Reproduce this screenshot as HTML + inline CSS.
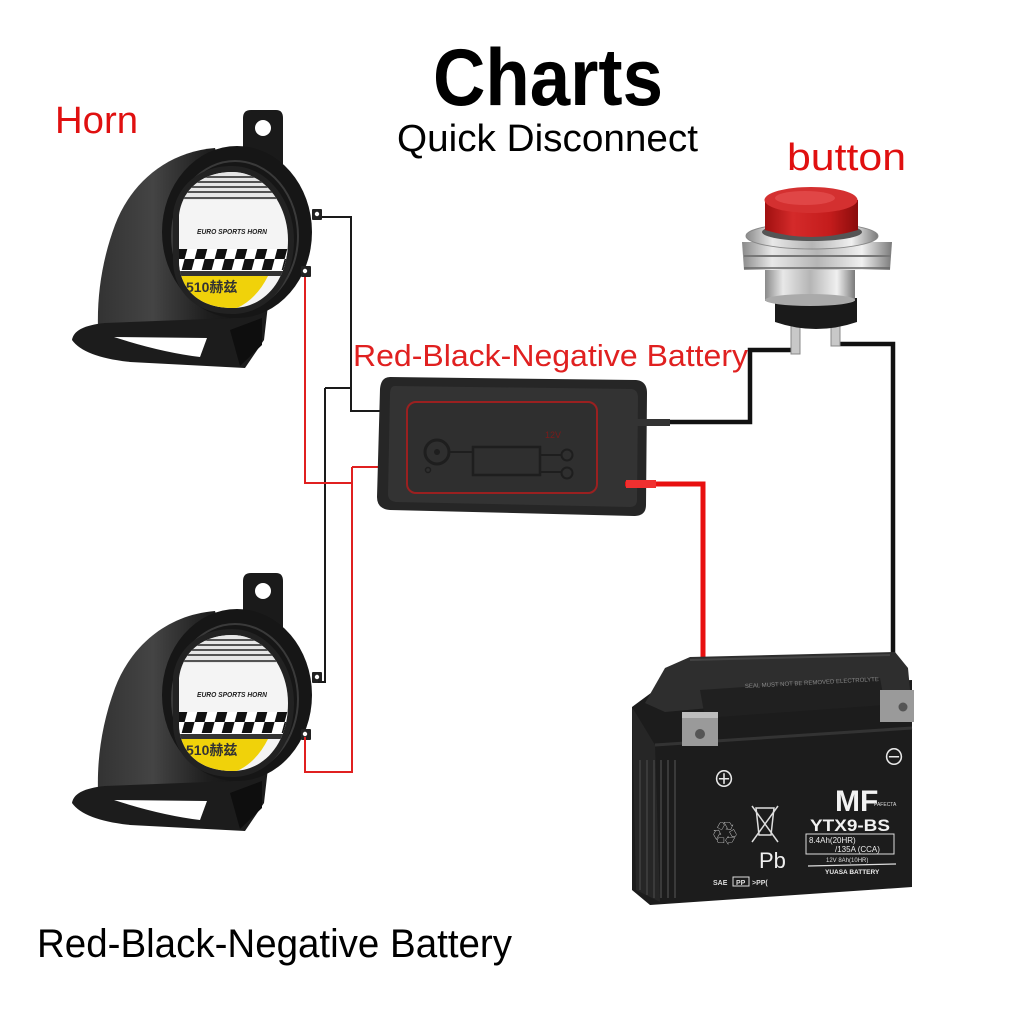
<!DOCTYPE html>
<html><head><meta charset="utf-8"><style>
html,body{margin:0;padding:0;background:#fff;width:1024px;height:1024px;overflow:hidden}
svg{display:block}
text{font-family:"Liberation Sans","Noto Sans CJK SC",sans-serif}
</style></head><body>
<svg width="1024" height="1024" viewBox="0 0 1024 1024" xmlns="http://www.w3.org/2000/svg">
<defs>
<linearGradient id="hg" x1="0" y1="0" x2="1" y2="0">
<stop offset="0" stop-color="#333"/><stop offset="0.35" stop-color="#444"/><stop offset="0.7" stop-color="#1e1e1e"/><stop offset="1" stop-color="#111"/>
</linearGradient>
<linearGradient id="silver" x1="0" y1="0" x2="1" y2="0">
<stop offset="0" stop-color="#8a8a8a"/><stop offset="0.2" stop-color="#e8e8e8"/><stop offset="0.5" stop-color="#b5b5b5"/><stop offset="0.8" stop-color="#f0f0f0"/><stop offset="1" stop-color="#7a7a7a"/>
</linearGradient>
<linearGradient id="redcap" x1="0" y1="0" x2="1" y2="0">
<stop offset="0" stop-color="#a01010"/><stop offset="0.3" stop-color="#d42a2a"/><stop offset="0.7" stop-color="#c41c1c"/><stop offset="1" stop-color="#8a0c0c"/>
</linearGradient>
<clipPath id="lab"><path d="M232,172 C265,172 288,205 288,240 C288,280 265,308 232,308 C200,308 180,290 179,262 L179,215 C182,190 202,172 232,172 Z"/></clipPath>
<g id="horn">
 <path d="M243,168 L243,118 Q243,110 251,110 L276,110 Q283,110 283,118 L283,175 Z" fill="#1a1a1a"/>
 <circle cx="263" cy="128" r="8" fill="#fff"/>
 <path d="M215,148 C165,152 130,185 115,225 C102,260 97,295 98,328 L240,332 L255,290 Z" fill="url(#hg)"/>
 <path d="M72,340 Q74,326 105,323 L235,318 L268,305 L264,340 L245,368 L130,362 Q84,357 72,340 Z" fill="#1c1c1c"/>
 <path d="M114,337 L207,338 L200,357 Q160,352 114,337 Z" fill="#fff"/>
 <path d="M230,330 L262,318 L262,345 L240,366 Z" fill="#0e0e0e"/>
 <ellipse cx="237" cy="232" rx="75" ry="86" fill="#161616"/>
 <ellipse cx="235" cy="236" rx="63" ry="75" fill="none" stroke="#3a3a3a" stroke-width="2"/>
 <path d="M232,166 C268,166 294,202 294,240 C294,283 268,314 232,314 C196,314 174,292 173,262 L173,213 C177,186 199,166 232,166 Z" fill="#222"/>
 <g clip-path="url(#lab)">
  <rect x="170" y="170" width="125" height="140" fill="#f4f4f4"/>
  <rect x="170" y="170" width="125" height="30" fill="#e6e6e6"/>
  <g stroke="#222" stroke-width="1.6">
   <line x1="185" y1="177" x2="280" y2="177"/><line x1="182" y1="182" x2="280" y2="182"/>
   <line x1="180" y1="187" x2="282" y2="187"/><line x1="180" y1="192" x2="282" y2="192"/>
   <line x1="180" y1="198" x2="285" y2="198"/>
  </g>
  <text x="197" y="234" font-size="7.5" font-weight="bold" font-style="italic" fill="#222" textLength="70" lengthAdjust="spacingAndGlyphs">EURO SPORTS HORN</text>
  <rect x="170" y="249" width="125" height="22" fill="#fff"/>
  <g fill="#111" transform="skewX(-15) translate(66,0)">
   <rect x="178" y="249" width="10" height="10"/><rect x="198" y="249" width="10" height="10"/><rect x="218" y="249" width="10" height="10"/><rect x="238" y="249" width="10" height="10"/><rect x="258" y="249" width="10" height="10"/><rect x="278" y="249" width="10" height="10"/>
   <rect x="188" y="259" width="10" height="11"/><rect x="208" y="259" width="10" height="11"/><rect x="228" y="259" width="10" height="11"/><rect x="248" y="259" width="10" height="11"/><rect x="268" y="259" width="10" height="11"/><rect x="288" y="259" width="10" height="11"/>
  </g>
  <rect x="170" y="271" width="125" height="5" fill="#333"/>
  <path d="M170,276 L268,276 Q255,302 232,310 L170,310 Z" fill="#f0d20a"/>
  <text x="186" y="292" font-size="14" font-weight="bold" fill="#333">510赫兹</text>
 </g>
 <rect x="312" y="209" width="10" height="11" rx="1" fill="#222"/>
 <circle cx="317" cy="214" r="2.2" fill="#fff"/>
 <rect x="301" y="266" width="10" height="11" rx="1" fill="#222"/>
 <circle cx="305" cy="271" r="2.2" fill="#fff"/>
</g>
</defs>

<!-- Titles -->
<text x="433" y="105" font-size="81" font-weight="bold" fill="#000" textLength="230" lengthAdjust="spacingAndGlyphs">Charts</text>
<text x="397" y="151" font-size="38" fill="#000" textLength="301" lengthAdjust="spacingAndGlyphs">Quick Disconnect</text>
<text x="55" y="133" font-size="38" fill="#e01010" textLength="83" lengthAdjust="spacingAndGlyphs">Horn</text>
<text x="787" y="170" font-size="38" fill="#e01010" textLength="119" lengthAdjust="spacingAndGlyphs">button</text>
<text x="353" y="366" font-size="31" fill="#e02020" textLength="395" lengthAdjust="spacingAndGlyphs">Red-Black-Negative Battery</text>
<text x="37" y="957" font-size="40" fill="#000" textLength="475" lengthAdjust="spacingAndGlyphs">Red-Black-Negative Battery</text>

<!-- Horns -->
<use href="#horn"/>
<use href="#horn" transform="translate(0,463)"/>

<!-- thin wires -->
<g fill="none" stroke-width="2">
 <polyline points="322,217 351,217 351,411 384,411" stroke="#1a1a1a"/>
 <polyline points="325,388 351,388" stroke="#1a1a1a"/>
 <polyline points="325,388 325,682 318,682" stroke="#1a1a1a"/>
 <polyline points="305,277 305,483 352,483" stroke="#e02020"/>
 <polyline points="352,467 382,467" stroke="#e02020"/>
 <polyline points="352,467 352,772 305,772 305,737" stroke="#e02020"/>
</g>

<!-- relay box -->
<path d="M390,377 L636,380 Q647,381 647,393 L646,505 Q646,516 634,516 L390,510 Q377,509 377,497 L380,389 Q381,377 390,377 Z" fill="#262626"/>
<path d="M395,386 L632,389 Q638,390 638,398 L637,500 Q637,507 630,507 L396,502 Q388,501 388,494 L390,394 Q390,386 395,386 Z" fill="#333"/>
<rect x="407" y="402" width="190" height="91" rx="9" fill="#2f2f2f" stroke="#9a2020" stroke-width="2"/>
<circle cx="437" cy="452" r="12" fill="none" stroke="#1e1e1e" stroke-width="3"/>
<circle cx="437" cy="452" r="3" fill="#1e1e1e"/>
<circle cx="428" cy="470" r="2.5" fill="none" stroke="#1e1e1e" stroke-width="1.5"/>
<rect x="473" y="447" width="67" height="28" fill="none" stroke="#1e1e1e" stroke-width="2.5"/>
<line x1="449" y1="452" x2="473" y2="452" stroke="#1e1e1e" stroke-width="2"/>
<line x1="540" y1="455" x2="562" y2="455" stroke="#1e1e1e" stroke-width="2"/>
<line x1="540" y1="472" x2="562" y2="472" stroke="#1e1e1e" stroke-width="2"/>
<circle cx="567" cy="455" r="5.5" fill="none" stroke="#1e1e1e" stroke-width="2"/>
<circle cx="567" cy="473" r="5.5" fill="none" stroke="#1e1e1e" stroke-width="2"/>
<text x="545" y="438" font-size="9" fill="#7a1a1a">12V</text>

<!-- thick wires -->
<polyline points="628,422 750,422 750,350 797,350" fill="none" stroke="#111" stroke-width="4.5"/>
<rect x="628" y="419" width="42" height="7" fill="#333"/>
<polyline points="837,344 893,344 893,705" fill="none" stroke="#111" stroke-width="4.5"/>
<polyline points="625,484 703,484 703,732" fill="none" stroke="#e81010" stroke-width="5"/>
<rect x="626" y="480" width="30" height="8" fill="#f03030"/>

<!-- button -->
<rect x="791" y="322" width="9" height="32" fill="#c8c8c8" stroke="#888" stroke-width="1"/>
<rect x="831" y="320" width="9" height="26" fill="#c8c8c8" stroke="#888" stroke-width="1"/>
<path d="M775,298 L857,298 L857,322 Q816,336 775,322 Z" fill="#1a1a1a"/>
<rect x="765" y="265" width="90" height="36" fill="url(#silver)"/>
<ellipse cx="810" cy="300" rx="45" ry="6" fill="#aaa"/>
<path d="M742,242 L892,242 L890,270 L744,270 Z" fill="url(#silver)"/>
<line x1="744" y1="256" x2="890" y2="256" stroke="#777" stroke-width="2"/>
<line x1="744" y1="268" x2="890" y2="268" stroke="#666" stroke-width="1.5"/>
<ellipse cx="812" cy="236" rx="66" ry="13" fill="url(#silver)" stroke="#888" stroke-width="1"/>
<ellipse cx="812" cy="232" rx="50" ry="9" fill="#555"/>
<path d="M765,200 L858,200 L858,230 Q811,244 765,230 Z" fill="url(#redcap)"/>
<ellipse cx="811" cy="200" rx="46.5" ry="13" fill="#d43030"/>
<ellipse cx="805" cy="198" rx="30" ry="7" fill="#e04646"/>

<!-- battery -->
<path d="M632,707 L655,690 L912,680 L912,887 L650,905 L632,890 Z" fill="#1c1c1c"/>
<path d="M632,707 L655,745 L660,902 L636,890 Z" fill="#262626"/>
<g stroke="#3a3a3a" stroke-width="2">
 <line x1="640" y1="760" x2="640" y2="890"/><line x1="647" y1="760" x2="647" y2="895"/><line x1="654" y1="760" x2="654" y2="898"/>
 <line x1="661" y1="760" x2="661" y2="898"/><line x1="668" y1="760" x2="668" y2="898"/><line x1="675" y1="760" x2="675" y2="898"/>
</g>
<path d="M645,703 L665,668 L690,657 L895,652 L908,668 L910,690 L665,712 Z" fill="#2e2e2e"/>
<path d="M700,690 L880,678 L885,705 L705,718 Z" fill="#202020"/>
<path d="M690,660 L890,655" stroke="#444" stroke-width="2"/>
<text x="745" y="688" font-size="6" fill="#888" transform="rotate(-3 745 688)">SEAL MUST NOT BE REMOVED ELECTROLYTE</text>
<path d="M655,745 L912,728" stroke="#333" stroke-width="3"/>
<rect x="682" y="712" width="36" height="34" fill="#9a9a9a"/>
<rect x="682" y="712" width="36" height="6" fill="#bdbdbd"/>
<circle cx="700" cy="734" r="5" fill="#555"/>
<rect x="880" y="690" width="34" height="32" fill="#9a9a9a"/>
<circle cx="903" cy="707" r="4.5" fill="#555"/>
<text x="713" y="787" font-size="22" fill="#e8e8e8">⊕</text>
<text x="883" y="765" font-size="22" fill="#e8e8e8">⊖</text>
<text x="835" y="811" font-size="30" font-weight="bold" fill="#f2f2f2">MF</text>
<text x="874" y="806" font-size="5" fill="#ddd">PAFECTA</text>
<text x="810" y="831" font-size="17" font-weight="bold" fill="#f2f2f2" textLength="80" lengthAdjust="spacingAndGlyphs">YTX9-BS</text>
<rect x="806" y="834" width="88" height="20" fill="none" stroke="#ddd" stroke-width="1"/>
<text x="809" y="843" font-size="8" fill="#eee">8.4Ah(20HR)</text>
<text x="835" y="852" font-size="8" fill="#eee">/135A (CCA)</text>
<text x="826" y="862" font-size="6" fill="#ddd">12V 8Ah(10HR)</text>
<line x1="808" y1="866" x2="896" y2="864" stroke="#ddd" stroke-width="1.2"/>
<text x="825" y="874" font-size="6.5" font-weight="bold" fill="#eee">YUASA BATTERY</text>
<text x="759" y="868" font-size="22" fill="#f0f0f0">Pb</text>
<text x="713" y="842" font-size="24" fill="#ccc">♲</text>
<g stroke="#ddd" stroke-width="1.5" fill="none">
 <path d="M756,808 L774,808 L771,835 L759,835 Z"/>
 <line x1="752" y1="806" x2="778" y2="842"/><line x1="778" y1="806" x2="752" y2="842"/>
</g>
<text x="713" y="885" font-size="7" font-weight="bold" fill="#ddd">SAE</text>
<rect x="733" y="877" width="16" height="9" fill="none" stroke="#ddd" stroke-width="1"/>
<text x="736" y="885" font-size="7" font-weight="bold" fill="#ddd">PP</text>
<text x="752" y="885" font-size="7" font-weight="bold" fill="#ddd">&gt;PP(</text>
</svg>
</body></html>
